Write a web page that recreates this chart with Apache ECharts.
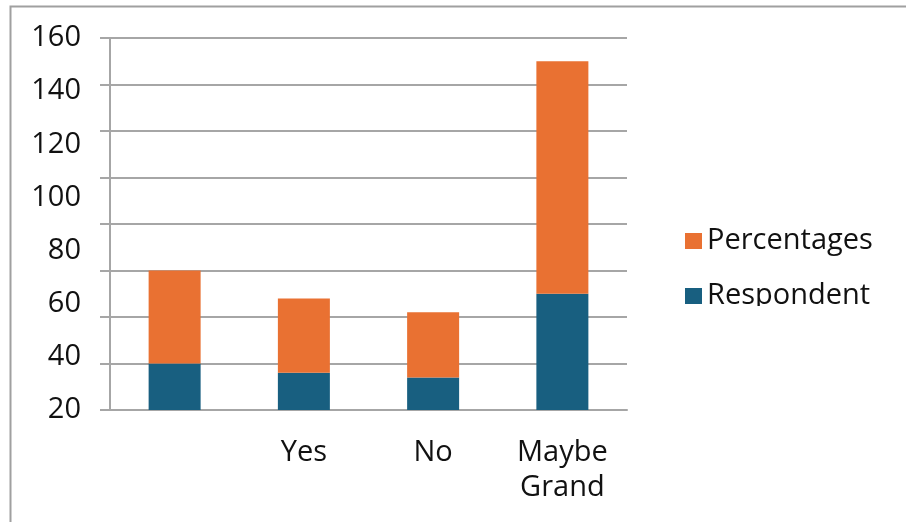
<!DOCTYPE html>
<html>
<head>
<meta charset="utf-8">
<script src="https://cdn.jsdelivr.net/npm/echarts@6/dist/echarts.min.js"></script>
<style>
  html, body { margin: 0; padding: 0; background: #fff; }
  #chart { width: 906px; height: 522px; }
</style>
</head>
<body>
<div id="chart"></div>
<script>
// data
var categories = ['', 'Yes', 'No', 'Maybe\nGrand'];
var respondent = [20, 16, 14, 50];
var percentages = [40, 32, 28, 100];
// the printed tick labels are spread 20..160 over the full height
var labelMin = 20, labelMax = 160, labelStep = 20;

var myChart = echarts.init(document.getElementById('chart'));

var font = '"Open Sans", sans-serif';
var gridColor = '#a6a6a6';
var textColor = '#111';

var option = {
    animation: false,
    textStyle: { fontFamily: font },
    grid: { left: 110, right: 279, top: 38, bottom: 112, containLabel: false },
    legend: {
        orient: 'vertical',
        left: 680,
        top: 215,
        itemWidth: 17,
        itemHeight: 16,
        itemGap: 13,
        icon: 'rect',
        data: ['Percentages', 'Respondent'],
        textStyle: { fontFamily: font, fontSize: 29, lineHeight: 30, color: textColor, padding: [12, 0, 0, 0] }
    },
    xAxis: {
        type: 'category',
        data: categories,
        axisLine: { lineStyle: { color: gridColor, width: 2 } },
        axisTick: { length: 10, lineStyle: { color: gridColor, width: 2 } },
        axisLabel: { fontFamily: font, fontSize: 29, color: textColor, lineHeight: 35, margin: 25 }
    },
    yAxis: [{
        type: 'value',
        min: 0,
        max: 160,
        interval: 20,
        axisLine: { show: true, lineStyle: { color: gridColor, width: 2 } },
        axisTick: { show: true, length: 10, lineStyle: { color: gridColor, width: 2 } },
        splitLine: { lineStyle: { color: gridColor, width: 2 } },
        axisLabel: { show: false }
    }, {
        type: 'value',
        position: 'left',
        min: labelMin,
        max: labelMax,
        interval: labelStep,
        axisLine: { show: false },
        axisTick: { show: false },
        splitLine: { show: false },
        axisLabel: { fontFamily: font, fontSize: 29, color: textColor, margin: 29 }
    }],
    series: [{
        name: 'Respondent',
        type: 'bar',
        stack: 'total',
        barWidth: 52,
        data: respondent,
        itemStyle: { color: '#185f80' }
    }, {
        name: 'Percentages',
        type: 'bar',
        stack: 'total',
        barWidth: 52,
        data: percentages,
        itemStyle: { color: '#e97132' }
    }],
    graphic: [{
        type: 'rect',
        left: 8,
        top: 4,
        shape: { width: 1000, height: 600 },
        style: { fill: 'none', stroke: '#a0a0a0', lineWidth: 2 },
        silent: true
    }, {
        // legend box is clipped at the bottom in the original
        type: 'rect',
        left: 660,
        top: 306,
        z: 100,
        shape: { width: 240, height: 40 },
        style: { fill: '#fff' },
        silent: true
    }]
};

myChart.setOption(option);
</script>
</body>
</html>
